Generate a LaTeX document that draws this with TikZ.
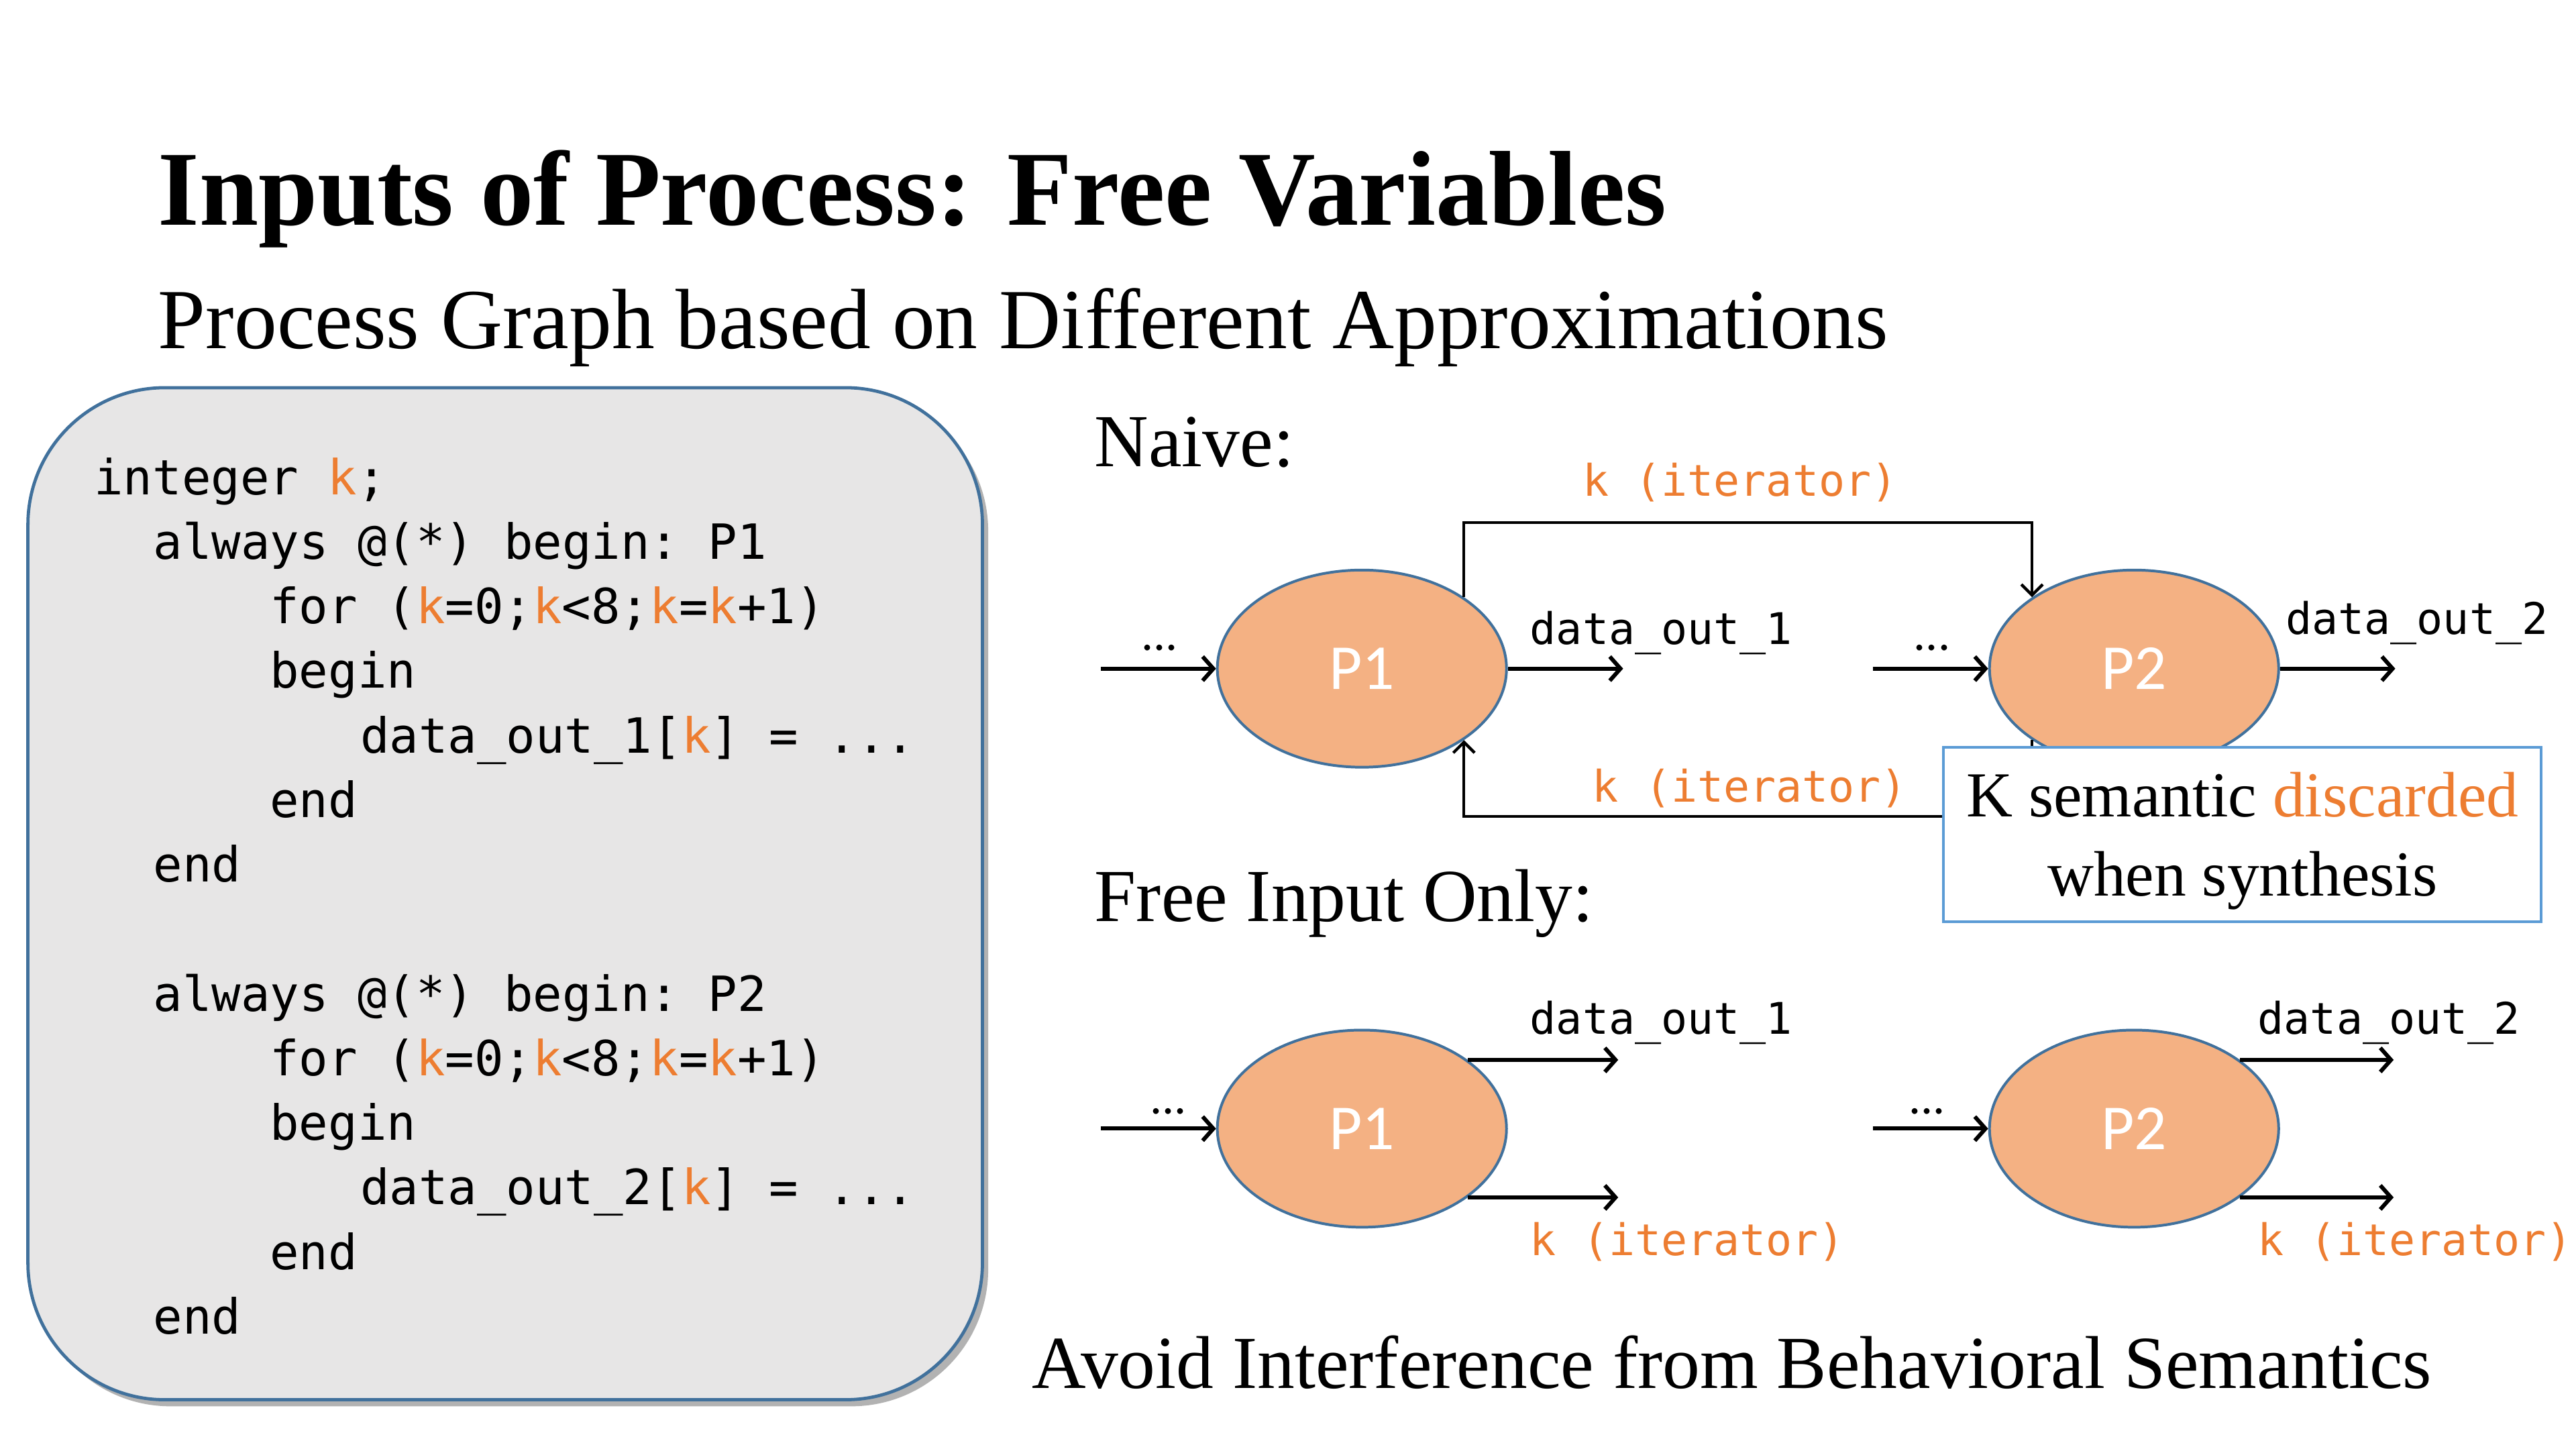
\documentclass[tikz,border=0pt]{standalone}
\usepackage{fontspec}
\setmainfont{Liberation Serif}
\newfontfamily\codefont{DejaVu Sans Mono}
\newfontfamily\calib{Carlito}
\usetikzlibrary{shapes.geometric,arrows.meta}
\definecolor{korange}{RGB}{237,125,49}
\definecolor{pfill}{RGB}{244,177,131}
\definecolor{pborder}{RGB}{65,113,156}
\definecolor{boxblue}{RGB}{91,155,213}
\definecolor{codebg}{RGB}{231,230,230}
\newcommand{\K}{\textcolor{korange}{k}}
\begin{document}
\begin{tikzpicture}[x=0.216mm,y=-0.216mm,
  txt/.style={anchor=base west,inner sep=0},
  codeln/.style={anchor=base west,inner sep=0,font=\codefont\fontsize{18.15}{22}\selectfont\frenchspacing},
  lbl/.style={anchor=base west,inner sep=0,font=\codefont\fontsize{16.3}{20}\selectfont\frenchspacing},
  klbl/.style={lbl,text=korange},
  dots/.style={anchor=base,inner sep=0,font=\calib\fontsize{18}{20}\selectfont},
  proc/.style={ellipse,draw=pborder,fill=pfill,line width=1pt,minimum width=38.02mm,minimum height=25.92mm,inner sep=0,text=white,font=\calib\fontsize{24}{28}\selectfont},
  arr/.style={line width=1.5pt,-{Straight Barb[length=4pt,width=9pt]}},
  looparr/.style={line width=1.1pt,-{Straight Barb[length=4pt,width=8pt]}},
  codebox/.style={rectangle,draw=pborder,fill=codebg,line width=1.2pt,rounded corners=18mm,minimum width=125.5mm,minimum height=133.06mm,inner sep=0},
  shadowbox/.style={rectangle,fill=black,opacity=0.3,rounded corners=18mm,minimum width=125.5mm,minimum height=133.06mm,inner sep=0},
  callout/.style={rectangle,draw=boxblue,fill=white,line width=1pt,minimum width=78.6mm,minimum height=22.9mm,inner sep=0},
  callouttext/.style={inner sep=0,align=center,font=\fontsize{24}{29.5}\selectfont}
]
\useasboundingbox (0,0) rectangle (1568,882);
\fill[white] (0,0) rectangle (1568,882);

% titles
\node[txt,font=\bfseries\fontsize{39.8}{48}\selectfont] (title) at (96,137) {Inputs of Process: Free Variables};
\node[txt,font=\fontsize{32}{38}\selectfont] (subtitle) at (96,212) {Process Graph based on Different Approximations};

% code box
\node[shadowbox] (shadow) at (311,548) {};
\node[codebox] (code) at (307.5,544) {};
\node[codeln] (c0) at (57,301) {integer \K;};
\node[codeln] (c1) at (93,340.3) {always @(*) begin: P1};
\node[codeln] (c2) at (164,379.6) {for (\K=0;\K<8;\K=\K+1)};
\node[codeln] (c3) at (164,418.9) {begin};
\node[codeln] (c4) at (219,458.2) {data\_out\_1[\K] = ...};
\node[codeln] (c5) at (164,497.5) {end};
\node[codeln] (c6) at (93,536.8) {end};
\node[codeln] (c8) at (93,615.4) {always @(*) begin: P2};
\node[codeln] (c9) at (164,654.7) {for (\K=0;\K<8;\K=\K+1)};
\node[codeln] (c10) at (164,694) {begin};
\node[codeln] (c11) at (219,733.3) {data\_out\_2[\K] = ...};
\node[codeln] (c12) at (164,772.6) {end};
\node[codeln] (c13) at (93,811.9) {end};

% Naive
\node[txt,font=\fontsize{28}{34}\selectfont] (naive) at (666,284) {Naive:};
\node[proc] (P1) at (829,407) {P1};
\node[proc] (P2) at (1299,407) {P2};
\coordinate (in1) at (670,407);
\coordinate (in2) at (1140,407);
\coordinate (out1) at (988,407);
\coordinate (out2) at (1458,407);
\draw[arr] (in1) -- (P1.west);
\draw[arr] (in2) -- (P2.west);
\draw[arr] (P1.east) -- (out1);
\draw[arr] (P2.east) -- (out2);
\node[dots] (d1) at (706,396) {...};
\node[dots] (d2) at (1176,396) {...};
\node[lbl] (do1) at (931,392) {data\_out\_1};
\node[lbl] (do2) at (1391,386) {data\_out\_2};
\coordinate (ty) at (0,318);
\coordinate (by) at (0,497);
\draw[looparr] (P1.35) |- (P2.145 |- ty) -- (P2.145);
\draw[looparr] (P2.215) |- (P1.325 |- by) -- (P1.325);
\node[klbl] (k1) at (963,302) {k (iterator)};
\node[klbl] (k2) at (969,488) {k (iterator)};
\node[callout] (note) at (1365,508) {};
\node[callouttext] (notetext) at (1365,512) {K semantic \textcolor{korange}{discarded}\\when synthesis};

% Free Input Only
\node[txt,font=\fontsize{28}{34}\selectfont] (free) at (666,561) {Free Input Only:};
\node[proc] (Q1) at (829,687) {P1};
\node[proc] (Q2) at (1299,687) {P2};
\coordinate (fin1) at (670,687);
\coordinate (fin2) at (1140,687);
\coordinate (fo1) at (985,0);
\coordinate (fo2) at (1457,0);
\draw[arr] (fin1) -- (Q1.west);
\draw[arr] (fin2) -- (Q2.west);
\draw[arr] (Q1.33) -- (Q1.33 -| fo1);
\draw[arr] (Q1.-33) -- (Q1.-33 -| fo1);
\draw[arr] (Q2.33) -- (Q2.33 -| fo2);
\draw[arr] (Q2.-33) -- (Q2.-33 -| fo2);
\node[dots] (d3) at (711,678) {...};
\node[dots] (d4) at (1173,678) {...};
\node[lbl] (fd1) at (931,629.6) {data\_out\_1};
\node[lbl] (fd2) at (1374,629.6) {data\_out\_2};
\node[klbl] (fk1) at (931,764) {k (iterator)};
\node[klbl] (fk2) at (1374,764) {k (iterator)};

\node[txt,font=\fontsize{28}{34}\selectfont] (avoid) at (628,845) {Avoid Interference from Behavioral Semantics};
\end{tikzpicture}
\end{document}
